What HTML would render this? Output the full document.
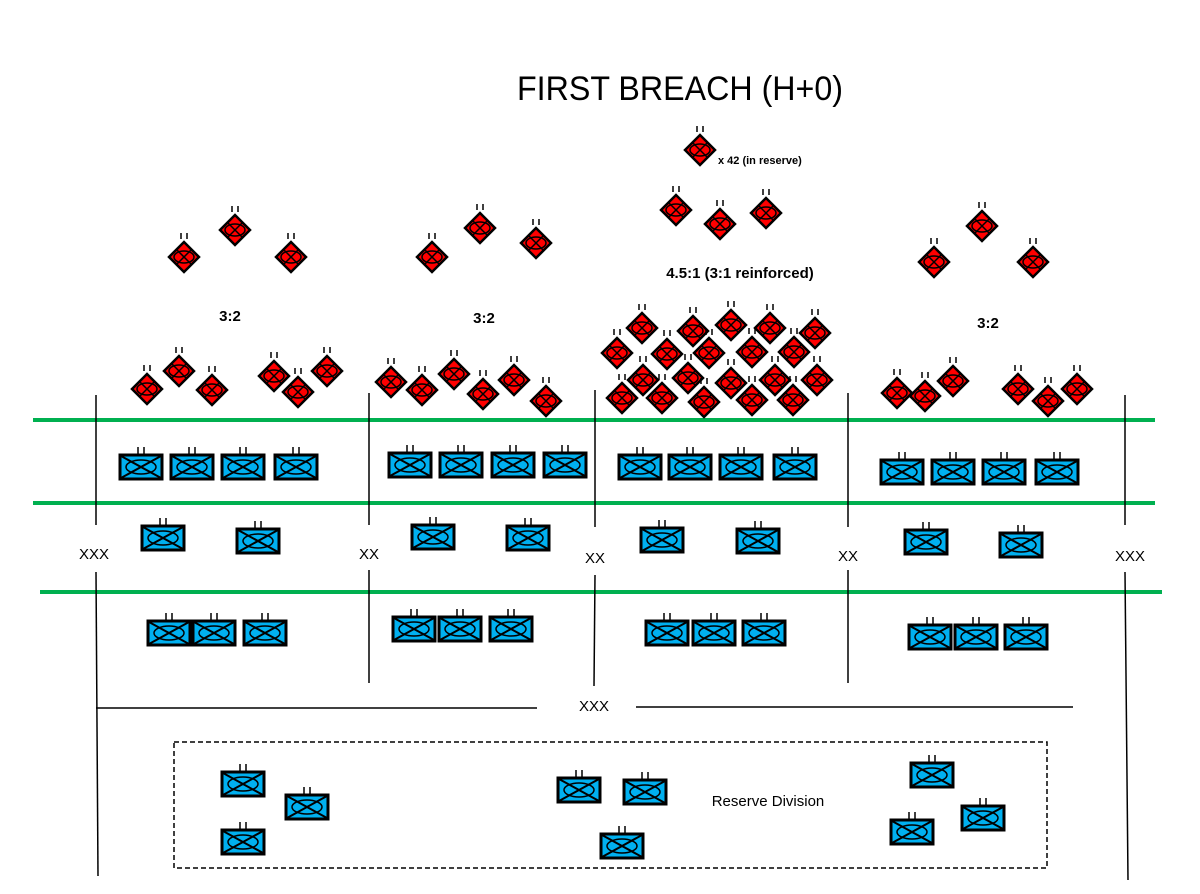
<!DOCTYPE html>
<html><head><meta charset="utf-8"><style>html,body{margin:0;padding:0;background:#fff}svg{display:block}</style></head>
<body>
<svg width="1200" height="894" viewBox="0 0 1200 894" xmlns="http://www.w3.org/2000/svg">
<defs>
<symbol id="d" overflow="visible">
  <line x1="-3" y1="-24" x2="-3" y2="-18" stroke="#000" stroke-width="1.5"/>
  <line x1="3" y1="-24" x2="3" y2="-18" stroke="#000" stroke-width="1.5"/>
  <polygon points="0,-15 15,0 0,15 -15,0" fill="#f00" stroke="#000" stroke-width="2.5"/>
  <ellipse cx="0" cy="0" rx="10" ry="6" fill="none" stroke="#000" stroke-width="1.5"/>
  <line x1="-7" y1="-7" x2="7" y2="7" stroke="#000" stroke-width="1.5"/>
  <line x1="7" y1="-7" x2="-7" y2="7" stroke="#000" stroke-width="1.5"/>
</symbol>
<symbol id="b" overflow="visible">
  <line x1="-3" y1="-20" x2="-3" y2="-13" stroke="#000" stroke-width="1.5"/>
  <line x1="3" y1="-20" x2="3" y2="-13" stroke="#000" stroke-width="1.5"/>
  <rect x="-21" y="-12" width="42" height="24" fill="#00b0f0" stroke="#000" stroke-width="3"/>
  <ellipse cx="0" cy="0" rx="15" ry="7" fill="none" stroke="#000" stroke-width="1.5"/>
  <line x1="-20" y1="-11" x2="20" y2="11" stroke="#000" stroke-width="2"/>
  <line x1="20" y1="-11" x2="-20" y2="11" stroke="#000" stroke-width="2"/>
</symbol>
</defs>

<text x="680" y="100" font-family="Liberation Sans, sans-serif" font-size="34" text-anchor="middle" textLength="326" lengthAdjust="spacingAndGlyphs">FIRST BREACH (H+0)</text>
<text x="718" y="164" font-family="Liberation Sans, sans-serif" font-size="11" font-weight="bold">x 42 (in reserve)</text>
<g font-family="Liberation Sans, sans-serif" font-size="15" font-weight="bold" text-anchor="middle">
<text x="230" y="321">3:2</text>
<text x="484" y="323">3:2</text>
<text x="988" y="328">3:2</text>
<text x="740" y="278">4.5:1 (3:1 reinforced)</text>
</g>

<!-- green lines -->
<g stroke="#00b050" stroke-width="4">
<line x1="33" y1="420" x2="1155" y2="420"/>
<line x1="33" y1="503" x2="1155" y2="503"/>
<line x1="40" y1="592" x2="1162" y2="592"/>
</g>
<!-- vertical boundaries -->
<g stroke="#000" stroke-width="1.5">
<line x1="96" y1="395" x2="96" y2="525"/><line x1="96" y1="572" x2="98" y2="876"/>
<line x1="369" y1="393" x2="369" y2="525"/><line x1="369" y1="570" x2="369" y2="683"/>
<line x1="595" y1="390" x2="595" y2="527"/><line x1="595" y1="575" x2="594" y2="686"/>
<line x1="848" y1="393" x2="848" y2="527"/><line x1="848" y1="570" x2="848" y2="683"/>
<line x1="1125" y1="395" x2="1125" y2="525"/><line x1="1125" y1="572" x2="1128" y2="880"/>
<line x1="96" y1="708" x2="537" y2="708"/><line x1="636" y1="707" x2="1073" y2="707"/>
</g>
<g font-family="Liberation Sans, sans-serif" font-size="15" text-anchor="middle">
<text x="94" y="559">XXX</text>
<text x="369" y="559">XX</text>
<text x="595" y="563">XX</text>
<text x="848" y="561">XX</text>
<text x="1130" y="561">XXX</text>
<text x="594" y="711">XXX</text>
<text x="768" y="806">Reserve Division</text>
</g>
<rect x="174" y="742" width="873" height="126" fill="none" stroke="#000" stroke-width="1.5" stroke-dasharray="5,3"/>

<!-- red diamonds -->
<g>
<use href="#d" x="700" y="150"/>
<use href="#d" x="676" y="210"/><use href="#d" x="720" y="224"/><use href="#d" x="766" y="213"/>
<use href="#d" x="184" y="257"/><use href="#d" x="235" y="230"/><use href="#d" x="291" y="257"/>
<use href="#d" x="432" y="257"/><use href="#d" x="480" y="228"/><use href="#d" x="536" y="243"/>
<use href="#d" x="934" y="262"/><use href="#d" x="982" y="226"/><use href="#d" x="1033" y="262"/>
<use href="#d" x="147" y="389"/><use href="#d" x="179" y="371"/><use href="#d" x="212" y="390"/>
<use href="#d" x="274" y="376"/><use href="#d" x="298" y="392"/><use href="#d" x="327" y="371"/>
<use href="#d" x="391" y="382"/><use href="#d" x="422" y="390"/><use href="#d" x="454" y="374"/>
<use href="#d" x="483" y="394"/><use href="#d" x="514" y="380"/><use href="#d" x="546" y="401"/>
<use href="#d" x="897" y="393"/><use href="#d" x="925" y="396"/><use href="#d" x="953" y="381"/>
<use href="#d" x="1018" y="389"/><use href="#d" x="1048" y="401"/><use href="#d" x="1077" y="389"/>
<use href="#d" x="642" y="328"/><use href="#d" x="693" y="331"/><use href="#d" x="731" y="325"/><use href="#d" x="770" y="328"/><use href="#d" x="815" y="333"/>
<use href="#d" x="617" y="353"/><use href="#d" x="667" y="354"/><use href="#d" x="709" y="353"/><use href="#d" x="752" y="352"/><use href="#d" x="794" y="352"/>
<use href="#d" x="643" y="380"/><use href="#d" x="688" y="378"/><use href="#d" x="731" y="383"/><use href="#d" x="775" y="380"/><use href="#d" x="817" y="380"/>
<use href="#d" x="622" y="398"/><use href="#d" x="662" y="398"/><use href="#d" x="704" y="402"/><use href="#d" x="752" y="400"/><use href="#d" x="793" y="400"/>
</g>

<!-- blue boxes -->
<g>
<use href="#b" x="141" y="467"/><use href="#b" x="192" y="467"/><use href="#b" x="243" y="467"/><use href="#b" x="296" y="467"/>
<use href="#b" x="410" y="465"/><use href="#b" x="461" y="465"/><use href="#b" x="513" y="465"/><use href="#b" x="565" y="465"/>
<use href="#b" x="640" y="467"/><use href="#b" x="690" y="467"/><use href="#b" x="741" y="467"/><use href="#b" x="795" y="467"/>
<use href="#b" x="902" y="472"/><use href="#b" x="953" y="472"/><use href="#b" x="1004" y="472"/><use href="#b" x="1057" y="472"/>
<use href="#b" x="163" y="538"/><use href="#b" x="258" y="541"/>
<use href="#b" x="433" y="537"/><use href="#b" x="528" y="538"/>
<use href="#b" x="662" y="540"/><use href="#b" x="758" y="541"/>
<use href="#b" x="926" y="542"/><use href="#b" x="1021" y="545"/>
<use href="#b" x="169" y="633"/><use href="#b" x="214" y="633"/><use href="#b" x="265" y="633"/>
<use href="#b" x="414" y="629"/><use href="#b" x="460" y="629"/><use href="#b" x="511" y="629"/>
<use href="#b" x="667" y="633"/><use href="#b" x="714" y="633"/><use href="#b" x="764" y="633"/>
<use href="#b" x="930" y="637"/><use href="#b" x="976" y="637"/><use href="#b" x="1026" y="637"/>
<use href="#b" x="243" y="784"/><use href="#b" x="307" y="807"/><use href="#b" x="243" y="842"/>
<use href="#b" x="579" y="790"/><use href="#b" x="645" y="792"/><use href="#b" x="622" y="846"/>
<use href="#b" x="932" y="775"/><use href="#b" x="983" y="818"/><use href="#b" x="912" y="832"/>
</g>
</svg>
</body></html>
